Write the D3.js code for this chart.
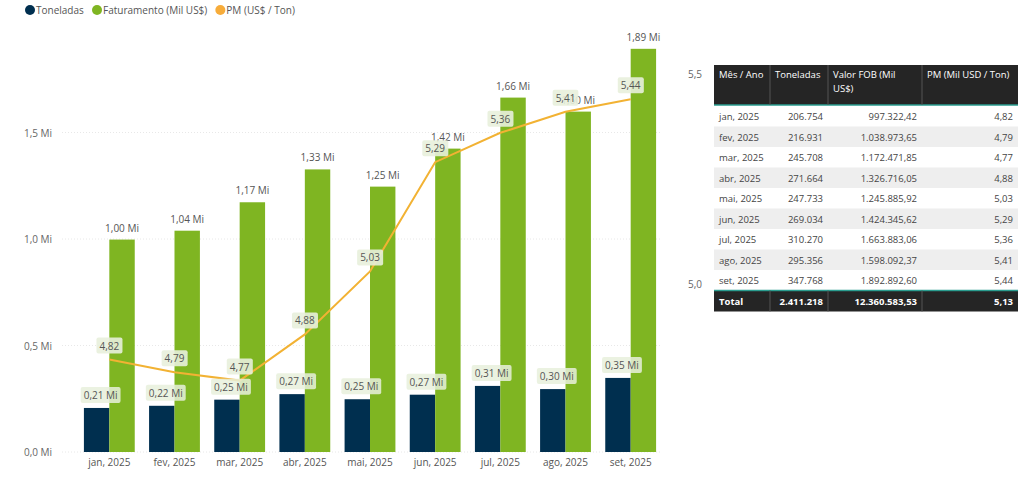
<!DOCTYPE html>
<html><head><meta charset="utf-8">
<script src="https://cdn.jsdelivr.net/npm/d3@7"></script>
<style>
body{margin:0;background:#fff;font-family:"Segoe UI","Open Sans",sans-serif;}
</style></head>
<body><svg id="chart" width="1024" height="491"></svg>
<script>
const months = ['jan, 2025','fev, 2025','mar, 2025','abr, 2025','mai, 2025','jun, 2025','jul, 2025','ago, 2025','set, 2025'];
const toneladas = [0.206754,0.216931,0.245708,0.271664,0.247733,0.269034,0.310270,0.295356,0.347768];
const faturamento = [0.99732,1.03897,1.17247,1.32672,1.24589,1.42435,1.66388,1.59809,1.89289];
const pm = [4.82,4.79,4.77,4.88,5.03,5.29,5.36,5.41,5.44];
const leftTicks = [0,0.5,1.0,1.5];
const rightTicks = [5.0,5.5];
const tableHead = ['Mês / Ano','Toneladas','Valor FOB (Mil US$)','PM (Mil USD / Ton)'];
const tonTxt = ['206.754','216.931','245.708','271.664','247.733','269.034','310.270','295.356','347.768'];
const fobTxt = ['997.322,42','1.038.973,65','1.172.471,85','1.326.716,05','1.245.885,92','1.424.345,62','1.663.883,06','1.598.092,37','1.892.892,60'];
const totalRow = ['Total','2.411.218','12.360.583,53','5,13'];

const svg = d3.select('#chart');
const fmt = v => v.toFixed(2).replace('.', ',');
const x = d3.scaleBand().domain(months).range([80, 660]).paddingInner(0.22).paddingOuter(0.06);
const yL = d3.scaleLinear().domain([0, 2]).range([452, 26]);
const yR = d3.scaleLinear().domain([4.6, 5.6]).range([452, 32]);

// grid
svg.selectAll('.grid').data(leftTicks).enter().append('line')
  .attr('x1', 62).attr('x2', 660).attr('y1', d => yL(d)).attr('y2', d => yL(d))
  .attr('stroke', '#e8e8e8').attr('stroke-dasharray', '1,2');
svg.selectAll('.lt').data(leftTicks).enter().append('text')
  .attr('x', 24).attr('y', d => yL(d) + 4).attr('font-size', 10).attr('fill', '#666')
  .text(d => d === 0 ? '0,0 Mi' : fmt(d).slice(0, 3) + ' Mi');
svg.selectAll('.rt').data(rightTicks).enter().append('text')
  .attr('x', 688).attr('y', d => yR(d) + 4).attr('font-size', 10).attr('fill', '#666')
  .text(d => d.toFixed(1).replace('.', ','));
svg.selectAll('.xt').data(months).enter().append('text')
  .attr('x', d => x(d) + x.bandwidth() / 2).attr('y', 466).attr('text-anchor', 'middle')
  .attr('font-size', 10).attr('fill', '#555').text(d => d);

const bw = x.bandwidth() / 2;
svg.selectAll('.b1').data(toneladas).enter().append('rect')
  .attr('x', (d, i) => x(months[i])).attr('width', bw)
  .attr('y', d => yL(d)).attr('height', d => yL(0) - yL(d)).attr('fill', '#002f4f');
svg.selectAll('.b2').data(faturamento).enter().append('rect')
  .attr('x', (d, i) => x(months[i]) + bw).attr('width', bw)
  .attr('y', d => yL(d)).attr('height', d => yL(0) - yL(d)).attr('fill', '#7fb522');

const line = d3.line().x((d, i) => x(months[i]) + x.bandwidth() / 2).y(d => yR(d));
svg.append('path').datum(pm).attr('d', line).attr('fill', 'none')
  .attr('stroke', '#f2b233').attr('stroke-width', 2);

function label(cx, cy, txt, bg) {
  const t = svg.append('text').attr('x', cx).attr('y', cy + 4).attr('text-anchor', 'middle')
    .attr('font-size', 10).attr('fill', '#555').text(txt);
  const bb = t.node().getBBox();
  svg.insert('rect', () => t.node()).attr('x', bb.x - 3).attr('y', bb.y - 1)
    .attr('width', bb.width + 6).attr('height', bb.height + 2).attr('rx', 2).attr('fill', bg);
}
toneladas.forEach((d, i) => label(x(months[i]) + bw / 2 + 4, yL(d) - 13, fmt(d) + ' Mi', 'rgba(232,240,220,0.85)'));
faturamento.forEach((d, i) => label(x(months[i]) + bw * 1.5, yL(d) - 12, fmt(d) + ' Mi', 'rgba(255,255,255,0)'));
pm.forEach((d, i) => label(x(months[i]) + x.bandwidth() / 2, yR(d) - 14, fmt(d), 'rgba(232,240,220,0.9)'));

// legend
const leg = [['Toneladas', '#002f4f'], ['Faturamento (Mil US$)', '#7fb522'], ['PM (US$ / Ton)', '#f7ac3a']];
let lx = 30;
leg.forEach(([t, c]) => {
  svg.append('circle').attr('cx', lx).attr('cy', 10).attr('r', 5).attr('fill', c);
  const tt = svg.append('text').attr('x', lx + 6).attr('y', 14).attr('font-size', 10).attr('fill', '#555').text(t);
  lx += tt.node().getBBox().width + 19;
});

// table
const cols = [714, 770, 828, 922, 1018];
const g = svg.append('g');
g.append('rect').attr('x', 714).attr('y', 65).attr('width', 304).attr('height', 40).attr('fill', '#252525');
g.append('line').attr('x1', 714).attr('x2', 1018).attr('y1', 105).attr('y2', 105).attr('stroke', '#2a9d8f').attr('stroke-width', 1.5);
tableHead.forEach((h, j) => {
  const t = g.append('text').attr('x', cols[j] + 5).attr('y', 78).attr('font-size', 9.5).attr('fill', '#fff');
  if (j === 2) { t.append('tspan').text('Valor FOB (Mil'); t.append('tspan').attr('x', cols[j] + 5).attr('dy', 14).text('US$)'); }
  else t.text(h);
  if (j > 0) g.append('line').attr('x1', cols[j]).attr('x2', cols[j]).attr('y1', 65).attr('y2', 105).attr('stroke', '#555');
});
const rh = 20.5;
months.forEach((m, i) => {
  const y0 = 106 + i * rh;
  if (i % 2 === 1) g.append('rect').attr('x', 714).attr('y', y0).attr('width', 304).attr('height', rh).attr('fill', '#eeeeee');
  const cells = [m, tonTxt[i], fobTxt[i], fmt(pm[i])];
  cells.forEach((c, j) => g.append('text')
    .attr('x', j === 0 ? cols[0] + 5 : cols[j + 1] - 5).attr('text-anchor', j === 0 ? 'start' : 'end')
    .attr('y', y0 + 14).attr('font-size', 9.5).attr('fill', '#444').text(c));
});
const ty = 106 + 9 * rh;
g.append('rect').attr('x', 714).attr('y', ty).attr('width', 304).attr('height', 21).attr('fill', '#252525');
g.append('line').attr('x1', 714).attr('x2', 1018).attr('y1', ty).attr('y2', ty).attr('stroke', '#2a9d8f').attr('stroke-width', 1.5);
totalRow.forEach((c, j) => {
  g.append('text').attr('x', j === 0 ? cols[0] + 5 : cols[j + 1] - 5).attr('text-anchor', j === 0 ? 'start' : 'end')
    .attr('y', ty + 14).attr('font-size', 9.5).attr('font-weight', 'bold').attr('fill', '#fff').text(c);
  if (j > 0) g.append('line').attr('x1', cols[j]).attr('x2', cols[j]).attr('y1', ty).attr('y2', ty + 21).attr('stroke', '#555');
});
</script></body></html>
